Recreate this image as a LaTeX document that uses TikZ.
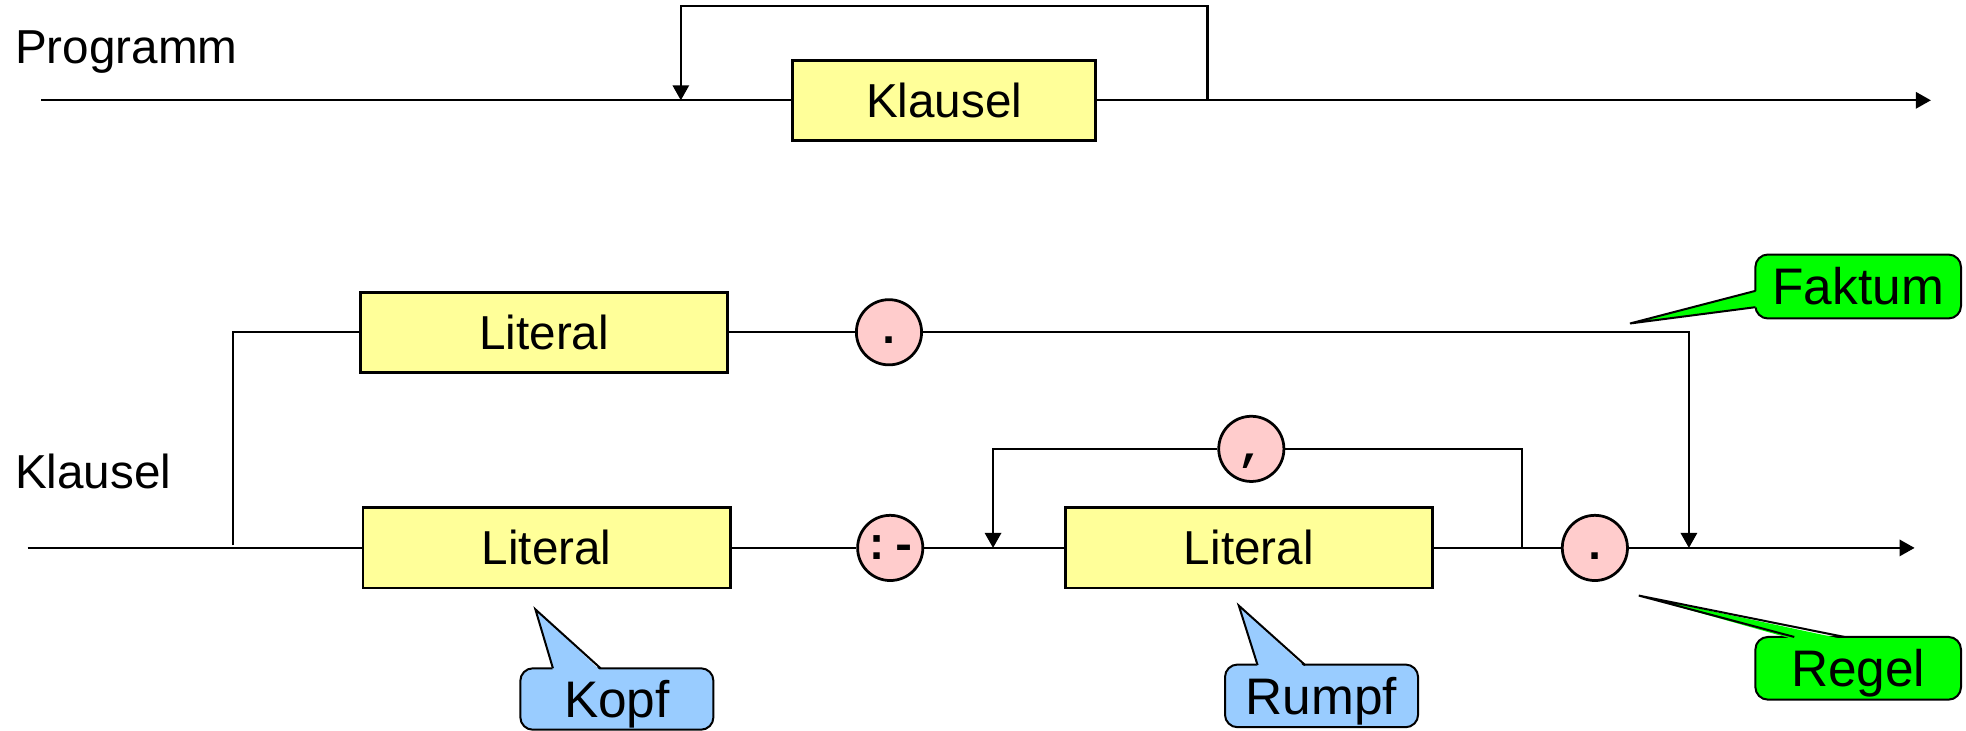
\documentclass[tikz,border=0pt]{standalone}
\usepackage{fontspec}
\setmainfont{Liberation Sans}
\newfontfamily\termfont{Liberation Mono}
\usetikzlibrary{arrows.meta,calc}
\definecolor{boxyellow}{HTML}{FFFF99}
\definecolor{circpink}{HTML}{FFCCCC}
\definecolor{callgreen}{HTML}{00FF00}
\definecolor{callblue}{HTML}{99CCFF}
\begin{document}
\begin{tikzpicture}[x=0.5pt,y=-0.5pt,
  line/.style={line width=0.9pt},
  arr/.style={line width=0.9pt,-{Triangle[length=6pt,width=6.5pt]}},
  synbox/.style={draw,line width=1.1pt,fill=boxyellow,minimum width=146.5pt,minimum height=32pt,inner sep=0pt,
    text height=13.6pt,text depth=0pt,font=\fontsize{19}{22}\selectfont},
  termcirc/.style={draw,line width=1.1pt,fill=circpink,circle,minimum size=26pt,inner sep=0pt,
    text height=9pt,text depth=0pt,font=\fontsize{18}{20}\termfont\bfseries},
  callbox/.style={draw,line width=0.8pt,rounded corners=5pt,inner sep=0pt,minimum width=77pt,minimum height=25pt,
    text height=14.7pt,text depth=0pt,font=\fontsize{20.5}{24}\selectfont},
  rulename/.style={anchor=base west,font=\fontsize{19}{22}\selectfont}
]
\useasboundingbox (0,0) rectangle (1568,583);

% ---------- Programm ----------
\node[rulename] (progname) at (5,51) {Programm};
\node[synbox,minimum width=121pt] (kl) at (753,80) {Klausel};
\coordinate (s1) at (33,80);
\coordinate (e1) at (1540,80);
\coordinate (lpR) at (963,80);
\coordinate (lpL) at (543,80);
\coordinate (lptop) at (750,5);
\draw[line] (s1) -- (kl.west);
\draw[arr] (kl.east) -- (e1);
\draw[arr] (lpR) |- (lptop) -| (lpL);

% ---------- Klausel ----------
\node[rulename] (klname) at (5,390) {Klausel};
\node[synbox] (lit1) at (434,265) {Literal};
\node[synbox] (lit2) at (436,437) {Literal};
\node[synbox] (lit3) at (996,437) {Literal};
\node[termcirc] (dot1) at (709,265) {.};
\node[termcirc] (neck) at (710,437) {:-};
\node[termcirc] (comma) at (998,358) {,};
\node[termcirc] (dot2) at (1272,437) {.};

\coordinate (s2) at (22,437);
\coordinate (e2) at (1527,437);
\coordinate (br) at (186,435);
\coordinate (j1) at (1347,437);
\coordinate (j2) at (1214,437);
\coordinate (j3) at (792,437);

\draw[line] (s2) -- (lit2.west);
\draw[line] (br) |- (lit1.west);
\draw[line] (lit1.east) -- (dot1.west);
\draw[arr] (dot1.east) -| (j1);
\draw[line] (lit2.east) -- (neck.west);
\draw[line] (neck.east) -- (lit3.west);
\draw[line] (lit3.east) -- (dot2.west);
\draw[arr] (dot2.east) -- (e2);
\draw[line] (j2) |- (comma.east);
\draw[arr] (comma.west) -| (j3);

% ---------- Callouts ----------
% Faktum
\node[callbox,fill=callgreen,minimum width=82pt,minimum height=25.5pt] (fak) at (1482,228.5) {Faktum};
\coordinate (faktip) at (1300,258);
\fill[callgreen] (1402,232) -- (faktip) -- (1402,245) -- cycle;
\draw[line width=0.8pt,line join=miter] (1400,232) -- (faktip) -- (1400,245);
% Regel
\node[callbox,fill=callgreen,minimum width=82pt,minimum height=25pt] (reg) at (1482,533) {Regel};
\coordinate (regtip) at (1307,475);
\fill[callgreen] (1431,510) -- (regtip) -- (1471,510) -- cycle;
\draw[line width=0.8pt,line join=miter] (1431,508) -- (regtip) -- (1471,508);
% Kopf
\node[callbox,fill=callblue,minimum height=24.5pt] (kopf) at (492,557.5) {Kopf};
\coordinate (kopftip) at (427,486);
\fill[callblue] (441,535) -- (kopftip) -- (479,535) -- cycle;
\draw[line width=0.8pt,line join=miter] (441,533) -- (kopftip) -- (479,533);
% Rumpf
\node[callbox,fill=callblue] (rumpf) at (1054,555) {Rumpf};
\coordinate (rumpftip) at (988,483);
\fill[callblue] (1003,532.5) -- (rumpftip) -- (1041,532.5) -- cycle;
\draw[line width=0.8pt,line join=miter] (1003,530.5) -- (rumpftip) -- (1041,530.5);
\end{tikzpicture}
\end{document}
